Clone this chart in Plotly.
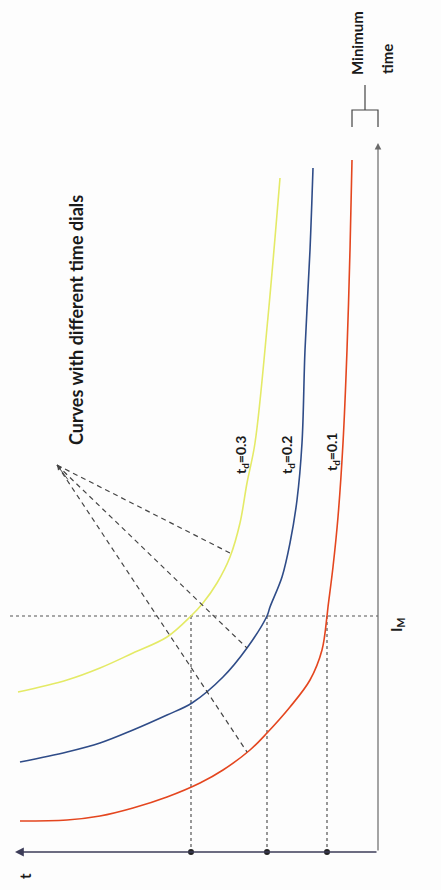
import plotly.graph_objects as go

# Inverse-time relay characteristics, drawn with time (t) along the horizontal
# axis growing to the left and current (I) along the vertical axis growing upward.

time_dials = ["0.1", "0.2", "0.3"]
curve_colors = ["#e4461f", "#2f4c88", "#e4ea66"]

# operating time t for each curve, paired with current I
t_td01 = [0.26, 0.28, 0.31, 0.35, 0.40, 0.45, 0.50, 0.51, 0.56, 0.68, 0.88, 1.11,
          1.28, 1.55, 1.78, 2.11, 2.45, 2.78, 3.11, 3.58]
i_td01 = [6.92, 6.02, 5.02, 4.09, 3.35, 2.85, 2.45, 2.36, 2.02, 1.72, 1.45, 1.19,
          1.02, 0.82, 0.69, 0.55, 0.44, 0.36, 0.32, 0.31]

t_td02 = [0.65, 0.68, 0.73, 0.76, 0.81, 0.88, 0.96, 1.08, 1.11, 1.31, 1.55, 1.86,
          2.11, 2.45, 2.78, 3.11, 3.58]
i_td02 = [6.84, 6.02, 5.02, 4.09, 3.52, 3.09, 2.75, 2.45, 2.36, 2.04, 1.75, 1.49,
          1.37, 1.22, 1.09, 1.00, 0.90]

t_td03 = [0.98, 1.10, 1.23, 1.31, 1.38, 1.48, 1.61, 1.75, 1.87, 2.11, 2.45, 2.78,
          3.11, 3.60]
i_td03 = [6.74, 5.35, 4.09, 3.69, 3.29, 2.95, 2.69, 2.49, 2.36, 2.15, 1.99, 1.84,
          1.72, 1.60]

curves_t = [t_td01, t_td02, t_td03]
curves_i = [i_td01, i_td02, i_td03]

# current I_M and the operating time of each curve at that current
i_m = 2.36
t_at_im = [0.51, 1.11, 1.87]

# pointer lines: common apex and a point on each curve
apex_t, apex_i = 3.21, 3.87
pointer_t = [1.31, 1.31, 1.48]
pointer_i = [1.00, 2.04, 2.99]

# axis extents
t_axis_end = 3.63
i_axis_end = 7.09

# "Minimum time" bracket spans from the t_d=0.1 asymptote to the I axis
bracket_t = [0.26, 0.0]
bracket_low, bracket_high, bracket_stem_top = 7.25, 7.42, 7.67

font_family = "Lato, 'Open Sans', sans-serif"

fig = go.Figure()

# dotted construction lines at I_M
fig.add_trace(go.Scatter(x=[3.68, 0.0], y=[i_m, i_m], mode="lines",
                         line=dict(color="#555555", width=1.2, dash="dot"),
                         hoverinfo="skip", showlegend=False))
for tv in t_at_im:
    fig.add_trace(go.Scatter(x=[tv, tv], y=[i_m, 0.0], mode="lines",
                             line=dict(color="#555555", width=1.2, dash="dot"),
                             hoverinfo="skip", showlegend=False))

# relay curves
for tt, ii, col in zip(curves_t, curves_i, curve_colors):
    fig.add_trace(go.Scatter(x=tt, y=ii, mode="lines",
                             line=dict(color=col, width=1.6, shape="spline", smoothing=1.0),
                             hoverinfo="skip", showlegend=False))

# dashed pointer lines
for pt, pi in zip(pointer_t, pointer_i):
    fig.add_trace(go.Scatter(x=[apex_t, pt], y=[apex_i, pi], mode="lines",
                             line=dict(color="#444444", width=1.2, dash="5px,4px"),
                             hoverinfo="skip", showlegend=False))

# markers where the operating times land on the t axis
fig.add_trace(go.Scatter(x=t_at_im, y=[0.0] * len(t_at_im), mode="markers",
                         marker=dict(color="#222222", size=6, symbol="circle"),
                         hoverinfo="skip", showlegend=False))

# minimum-time bracket
fig.add_trace(go.Scatter(
    x=[bracket_t[0], bracket_t[0], bracket_t[1], bracket_t[1]],
    y=[bracket_low, bracket_high, bracket_high, bracket_low],
    mode="lines", line=dict(color="#444444", width=1.2),
    hoverinfo="skip", showlegend=False))
mid_t = (bracket_t[0] + bracket_t[1]) / 2
fig.add_trace(go.Scatter(x=[mid_t, mid_t], y=[bracket_high, bracket_stem_top],
                         mode="lines", line=dict(color="#444444", width=1.2),
                         hoverinfo="skip", showlegend=False))

annotations = []
# axes drawn as arrows from the origin
annotations.append(dict(x=t_axis_end, y=0, ax=0, ay=0, xref="x", yref="y",
                        axref="x", ayref="y", text="", showarrow=True,
                        arrowhead=2, arrowsize=1.1, arrowwidth=1.6,
                        arrowcolor="#3c3c58"))
annotations.append(dict(x=0, y=i_axis_end, ax=0, ay=0, xref="x", yref="y",
                        axref="x", ayref="y", text="", showarrow=True,
                        arrowhead=2, arrowsize=1.1, arrowwidth=1.2,
                        arrowcolor="#6a6a6a"))
# small arrowhead at the pointer apex
annotations.append(dict(x=apex_t, y=apex_i, ax=apex_t - 0.12, ay=apex_i - 0.16,
                        xref="x", yref="y", axref="x", ayref="y", text="",
                        showarrow=True, arrowhead=2, arrowsize=1, arrowwidth=1,
                        arrowcolor="#444444"))

def label(text, t, i, size, bold=True):
    annotations.append(dict(x=t, y=i, xref="x", yref="y", text=text,
                            showarrow=False, textangle=-90,
                            font=dict(family=font_family, size=size, color="#1a1a1a",
                                      weight="bold" if bold else "normal"),
                            xanchor="center", yanchor="middle"))

label("Curves with different time dials", 3.02, 5.32, 18)
label("t<sub>d</sub>=0.3", 1.37, 3.97, 14)
label("t<sub>d</sub>=0.2", 0.91, 3.97, 14)
label("t<sub>d</sub>=0.1", 0.46, 4.00, 14)
label("I<sub>M</sub>", -0.19, 2.27, 15)
label("t", 3.53, -0.24, 15)
label("Minimum", 0.21, 8.09, 15)
label("time", -0.09, 7.93, 15)

fig.update_layout(
    width=441, height=890,
    margin=dict(l=0, r=0, t=0, b=0),
    paper_bgcolor="#fdfdfd", plot_bgcolor="#fdfdfd",
    xaxis=dict(range=[3.78, -0.63], visible=False, fixedrange=True),
    yaxis=dict(range=[-0.38, 8.52], visible=False, fixedrange=True),
    annotations=annotations,
    showlegend=False,
)

fig.write_html("out.html")
